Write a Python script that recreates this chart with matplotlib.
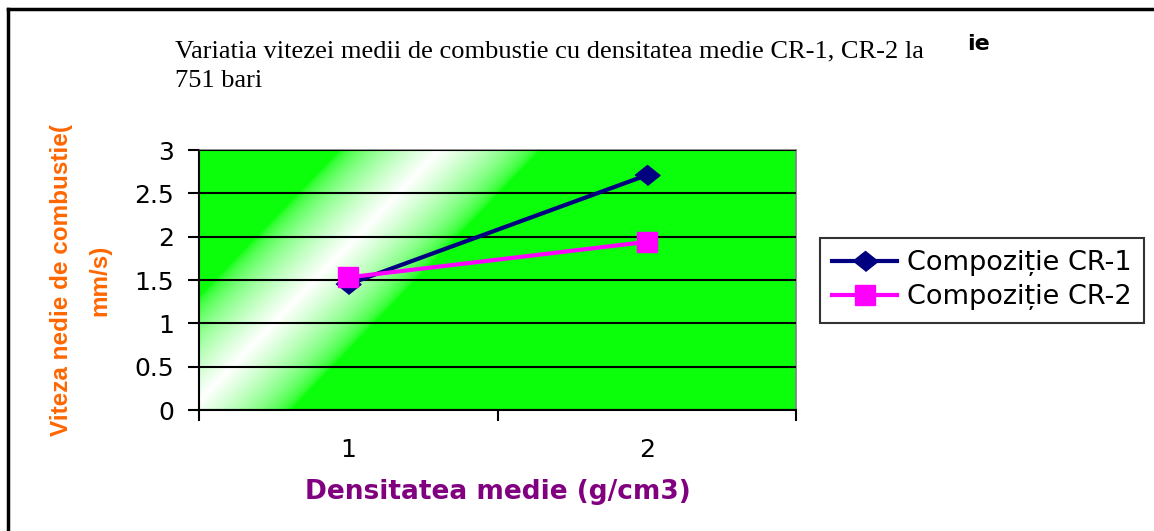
import numpy as np
import matplotlib
matplotlib.use("Agg")
import matplotlib.pyplot as plt
from matplotlib.lines import Line2D

# date: densitate medie (categorii) si viteza medie de combustie
categorii = ["1", "2"]
cr1 = [1.45, 2.71]
cr2 = [1.53, 1.94]
serii = ["Compoziție CR-1", "Compoziție CR-2"]

W, H = 1154, 531
fig = plt.figure(figsize=(W / 100, H / 100), dpi=100)

# zona graficului in pixeli
L, R, T, B = 199, 796, 150, 410
ax = fig.add_axes([L / W, 1 - B / H, (R - L) / W, (B - T) / H])

# fundal verde cu banda alba pe diagonala
nx, ny = R - L, B - T
X, Y = np.meshgrid(np.arange(nx) + L, np.arange(ny) + T)
xc = 225 + 0.96 * (373 - Y)
w = np.clip(1 - np.abs(X - xc) / 100.0, 0, 1) ** 0.6
green = np.array([11, 255, 11]) / 255.0
img = green[None, None, :] * (1 - w[..., None]) + w[..., None]
ax.imshow(img, extent=[0, 1, 0, 1], transform=ax.transAxes,
          aspect="auto", zorder=0, interpolation="bilinear")

x = np.arange(1, len(categorii) + 1)
ax.plot(x, cr1, color="#000080", lw=3, marker=[(-1, 0), (0, 0.8), (1, 0), (0, -0.8)],
        ms=18, label=serii[0], zorder=3)
ax.plot(x, cr2, color="#FF00FF", lw=3, marker="s", ms=15, label=serii[1], zorder=4)

ax.set_xlim(0.5, 2.5)
ax.set_ylim(0, 3)
ax.set_yticks(np.arange(0, 3.01, 0.5))
ax.set_yticklabels(["0", "0.5", "1", "1.5", "2", "2.5", "3"])
ax.set_xticks(x)
ax.set_xticklabels(categorii)
ax.set_xticks([0.5, 1.5, 2.5], minor=True)
ax.tick_params(axis="x", which="major", length=0, pad=20, labelsize=18)
ax.tick_params(axis="x", which="minor", length=8, width=1.5, direction="out")
ax.tick_params(axis="y", length=8, width=1.5, direction="out", pad=10, labelsize=18)
for lab in ax.get_xticklabels() + ax.get_yticklabels():
    lab.set_fontfamily("DejaVu Sans")

ax.grid(axis="y", color="black", lw=1.5, zorder=1)
ax.set_axisbelow(False)
for s in ["left", "bottom"]:
    ax.spines[s].set_color("black")
    ax.spines[s].set_linewidth(1.5)
for s in ["top", "right"]:
    ax.spines[s].set_color("#808080")
    ax.spines[s].set_linewidth(1.2)

# titlu
fig.text(175 / W, 1 - 57 / H, "Variatia vitezei medii de combustie cu densitatea medie CR-1, CR-2 la",
         family="Liberation Serif", fontsize=19, ha="left", va="baseline")
fig.text(175 / W, 1 - 87 / H, "751 bari",
         family="Liberation Serif", fontsize=19, ha="left", va="baseline")
fig.text(967 / W, 1 - 50 / H, "ie", family="DejaVu Sans", fontweight="bold",
         fontsize=16, ha="left", va="baseline")

# etichete axe
fig.text(497.5 / W, 1 - 492 / H, "Densitatea medie (g/cm3)", family="DejaVu Sans",
         fontweight="bold", fontsize=19, color="#800080", ha="center", va="center")
fig.text(62 / W, 1 - 280 / H, "Viteza nedie de combustie(", family="Liberation Sans",
         fontweight="bold", fontsize=17.5, color="#FF6600", rotation=90,
         ha="center", va="center")
fig.text(100 / W, 1 - 280 / H, "mm/s)", family="Liberation Sans",
         fontweight="bold", fontsize=17.5, color="#FF6600", rotation=90,
         ha="center", va="center")

# legenda
leg = fig.legend(loc="upper left", bbox_to_anchor=(820 / W, 1 - 238 / H),
                 prop={"family": "DejaVu Sans", "size": 19.5}, frameon=True,
                 fancybox=False, shadow=False, borderaxespad=0, borderpad=0.45,
                 handlelength=2.4, handletextpad=0.36, labelspacing=0.3)
leg.get_frame().set_edgecolor("black")
leg.get_frame().set_linewidth(1.5)
leg.get_frame().set_facecolor("white")

# chenar exterior (sus si stanga)
fig.add_artist(Line2D([7.5 / W, 1], [1 - 8.5 / H, 1 - 8.5 / H], color="black", lw=2.5,
                      transform=fig.transFigure))
fig.add_artist(Line2D([7.5 / W, 7.5 / W], [0, 1 - 8.5 / H], color="black", lw=2.5,
                      transform=fig.transFigure))

fig.savefig("out.png", dpi=100)
